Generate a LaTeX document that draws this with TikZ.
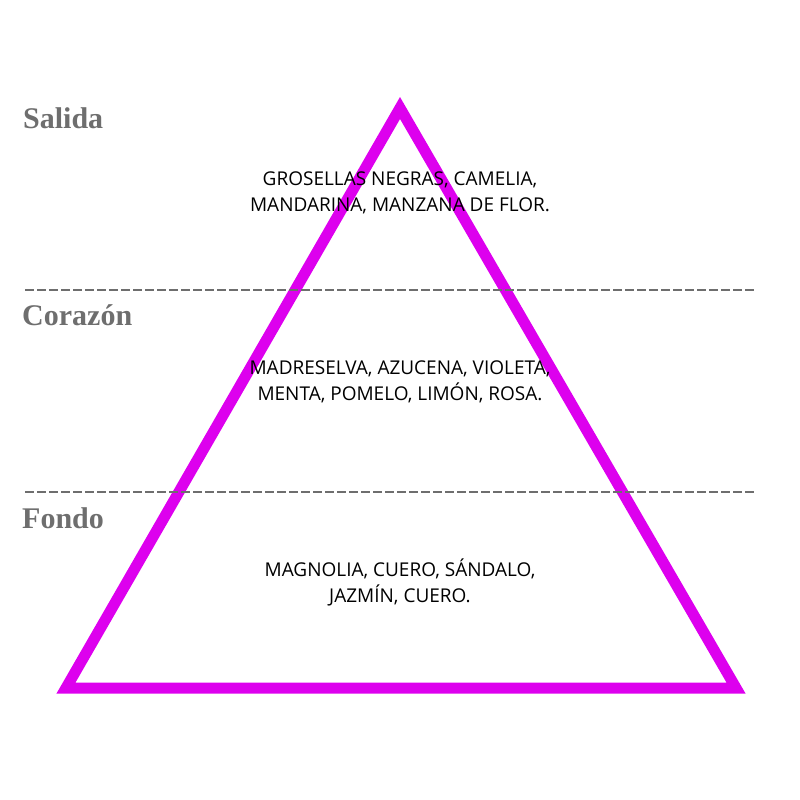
\documentclass[tikz,border=0pt]{standalone}
\usepackage{fontspec}
\setmainfont{Liberation Serif}
\newfontfamily\notefont{Open Sans}
\definecolor{pyrpink}{HTML}{DD00EE}
\definecolor{tiergray}{HTML}{6E6E6E}
\begin{document}
\begin{tikzpicture}[x=1pt,y=-1pt,
	tier/.style={anchor=west, text=tiergray, font=\bfseries\fontsize{30}{32}\selectfont, inner sep=0},
	notes/.style={align=center, font=\notefont\fontsize{19}{26}\selectfont, inner sep=0},
	divider/.style={tiergray, line width=2.2pt, dash pattern=on 9pt off 3pt}]
\useasboundingbox (0,0) rectangle (800,800);
% pyramid
\coordinate (top) at (400,108);
\coordinate (left) at (66,688);
\coordinate (right) at (736,688);
\draw[pyrpink, line width=11pt, line join=miter] (top) -- (right) -- (left) -- cycle;
% dividers
\coordinate (d1a) at (25,290); \coordinate (d1b) at (755,290);
\coordinate (d2a) at (25,492); \coordinate (d2b) at (755,492);
\draw[divider] (d1a) -- (d1b);
\draw[divider] (d2a) -- (d2b);
% tiers
\node[tier] (salida) at (23,118) {Salida};
\node[tier] (corazon) at (22,315) {Corazón};
\node[tier] (fondo) at (22,518) {Fondo};
% notes
\node[notes] (n1) at (400,193) {GROSELLAS NEGRAS, CAMELIA,\\MANDARINA, MANZANA DE FLOR.};
\node[notes] (n2) at (400,382) {MADRESELVA, AZUCENA, VIOLETA,\\MENTA, POMELO, LIMÓN, ROSA.};
\node[notes] (n3) at (400,582) {MAGNOLIA, CUERO, SÁNDALO,\\JAZMÍN, CUERO.};
\end{tikzpicture}
\end{document}
